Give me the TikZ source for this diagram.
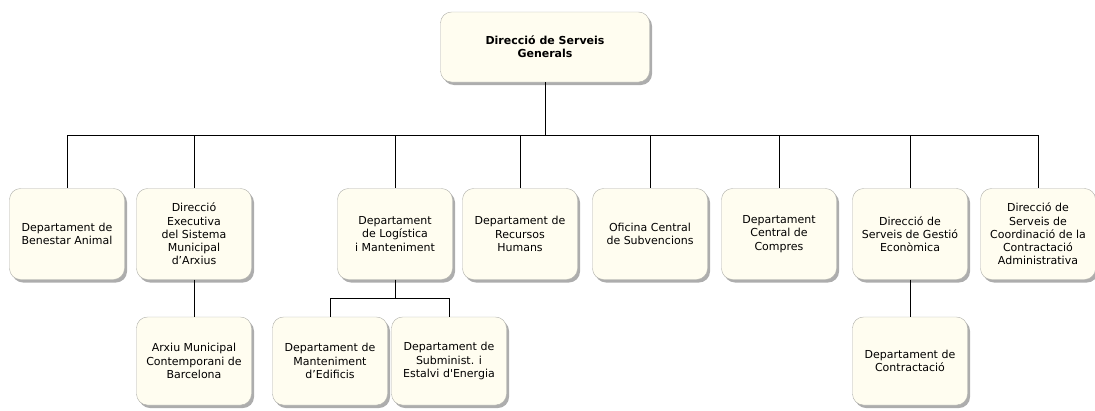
\documentclass[tikz,border=0pt]{standalone}
\usepackage{fontspec}
\setmainfont{DejaVu Sans}[Ligatures=TeXOff]
\usetikzlibrary{shadows}
\definecolor{boxcream}{RGB}{255,253,240}
\definecolor{boxedge}{RGB}{175,175,170}
\tikzset{
  unitbox/.style={draw=boxedge, fill=boxcream, rounded corners=11pt,
    minimum width=115pt, minimum height=91pt, align=center, inner sep=2pt,
    font=\fontsize{11}{13.3}\selectfont,
    drop shadow={shadow xshift=2.5pt, shadow yshift=-3pt, fill=black!40, opacity=.8}},
  headbox/.style={unitbox, minimum width=209pt, minimum height=70pt,
    font=\fontsize{11}{13.3}\selectfont\bfseries},
  link/.style={line width=1pt}
}
\begin{document}
\begin{tikzpicture}[x=1pt,y=-1pt]
	\useasboundingbox (0,0) rectangle (1095,410);
	% head
	\node[headbox] (dsg) at (545,47) {Direcció de Serveis\\Generals};
	% first level
	\node[unitbox] (ben) at (67,234) {Departament de\\Benestar Animal};
	\node[unitbox] (dex) at (194,234) {Direcció\\Executiva\\del Sistema\\Municipal\\d’Arxius};
	\node[unitbox] (log) at (395,234) {Departament\\de Logística\\i Manteniment};
	\node[unitbox] (rrhh) at (520,234) {Departament de\\Recursos\\Humans};
	\node[unitbox] (subv) at (650,234) {Oficina Central\\de Subvencions};
	\node[unitbox] (comp) at (779,234) {Departament\\Central de\\Compres};
	\node[unitbox] (gest) at (910,234) {Direcció de\\Serveis de Gestió\\Econòmica};
	\node[unitbox] (coord) at (1038,234) {Direcció de\\Serveis de\\Coordinació de la\\Contractació\\Administrativa};
	% second level
	\node[unitbox, minimum height=88pt] (arx) at (194,361) {Arxiu Municipal\\Contemporani de\\Barcelona};
	\node[unitbox, minimum height=88pt] (medi) at (330,361) {Departament de\\Manteniment\\d’Edificis};
	\node[unitbox, minimum height=88pt] (ener) at (449,361) {Departament de\\Subminist. i\\Estalvi d'Energia};
	\node[unitbox, minimum height=88pt] (ctr) at (910,361) {Departament de\\Contractació};
	% connectors
	\coordinate (bus) at (545,135);
	\coordinate (logbus) at (395,298);
	\foreach \n in {ben,dex,log,rrhh,subv,comp,gest,coord}
	    \draw[link] (dsg.south) |- (\n.north |- bus) -- (\n.north);
	\foreach \n in {medi,ener}
	    \draw[link] (log.south) |- (\n.north |- logbus) -- (\n.north);
	\draw[link] (dex) -- (arx);
	\draw[link] (gest) -- (ctr);
\end{tikzpicture}
\end{document}
